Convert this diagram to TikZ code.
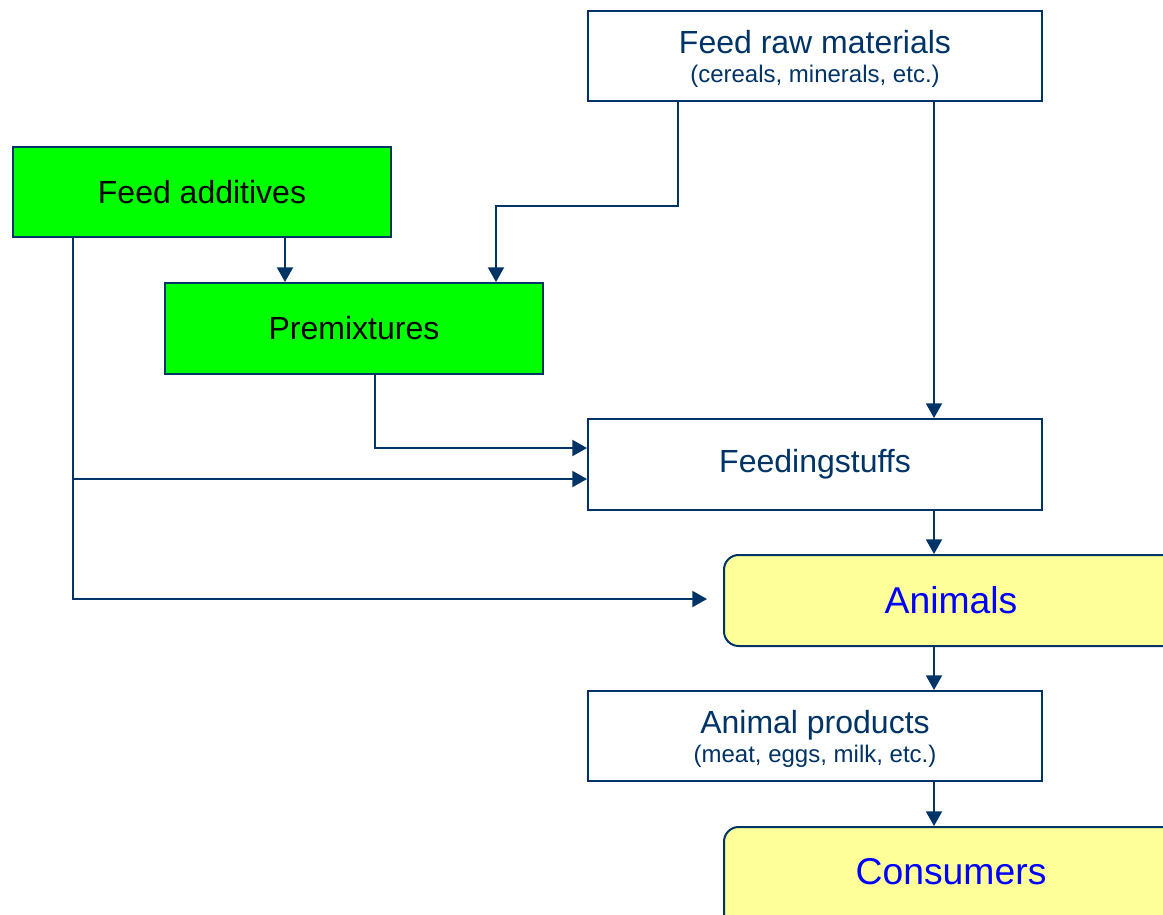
\documentclass[tikz,border=0pt]{standalone}
\usepackage{fontspec}
\setmainfont{Liberation Sans}
\usetikzlibrary{arrows.meta}
\definecolor{navy}{HTML}{003366}
\definecolor{lgreen}{HTML}{00FF00}
\definecolor{lyellow}{HTML}{FFFF99}
\definecolor{tblue}{HTML}{0000FF}
\tikzset{
  box/.style={draw=navy, line width=1.5pt, inner sep=0pt, anchor=north west},
  whitebox/.style={box, fill=white, text=navy},
  greenbox/.style={box, fill=lgreen, text=black},
  yellowbox/.style={box, fill=lyellow, text=tblue, rounded corners=11pt},
  twoline/.style={align=center, font=\fontsize{18pt}{22pt}\selectfont},
  conn/.style={draw=navy, line width=1.5pt, -{Triangle[length=11pt,width=12pt]}},
}
\newcommand{\bigtxt}{\fontsize{24pt}{26pt}\selectfont}
\newcommand{\hugetxt}{\fontsize{28pt}{30pt}\selectfont}
\newcommand{\titleline}[1]{{\fontsize{24pt}{22pt}\selectfont\rule{0pt}{22pt}#1}}
\begin{document}
\begin{tikzpicture}[x=0.75pt,y=-0.75pt]
\clip (0,0) rectangle (1163,914);
\fill[white] (0,0) rectangle (1163,914);
% boxes
\node[whitebox, twoline, minimum width=454*0.75pt, minimum height=90*0.75pt] (raw) at (587,10)
  {\titleline{Feed raw materials}\\(cereals, minerals, etc.)};
\node[greenbox, minimum width=378*0.75pt, minimum height=90*0.75pt] (add) at (12,146)
  {\bigtxt Feed additives};
\node[greenbox, minimum width=378*0.75pt, minimum height=91*0.75pt] (pre) at (164,282)
  {\bigtxt Premixtures};
\node[whitebox, minimum width=454*0.75pt, minimum height=91*0.75pt] (fs) at (587,418)
  {\bigtxt Feedingstuffs};
\node[yellowbox, minimum width=454*0.75pt, minimum height=91*0.75pt] (ani) at (723,554)
  {\hugetxt Animals};
\node[whitebox, twoline, minimum width=454*0.75pt, minimum height=90*0.75pt] (prod) at (587,690)
  {\titleline{Animal products}\\(meat, eggs, milk, etc.)};
\node[yellowbox, minimum width=454*0.75pt, minimum height=100*0.75pt] (cons) at (723,826)
  {\raisebox{8pt}{\hugetxt Consumers}};
% connectors
\coordinate (j1) at (73,479);
\coordinate (anin) at (707,599);
\draw[conn] (raw.south west -| 678,0) |- (496,206) -- (496,282);
\draw[conn] (raw.south west -| 934,0) -- (fs.north west -| 934,0);
\draw[conn] (add.south west -| 285,0) -- (pre.north west -| 285,0);
\draw[conn] (add.south west -| 73,0) |- (anin);
\draw[conn] (j1) -- (fs.west |- j1);
\draw[conn] (pre.south west -| 375,0) |- (fs.west |- 0,448);
\draw[conn] (fs.south west -| 934,0) -- (ani.north west -| 934,0);
\draw[conn] (ani.south west -| 934,0) -- (prod.north west -| 934,0);
\draw[conn] (prod.south west -| 934,0) -- (cons.north west -| 934,0);
\end{tikzpicture}
\end{document}
